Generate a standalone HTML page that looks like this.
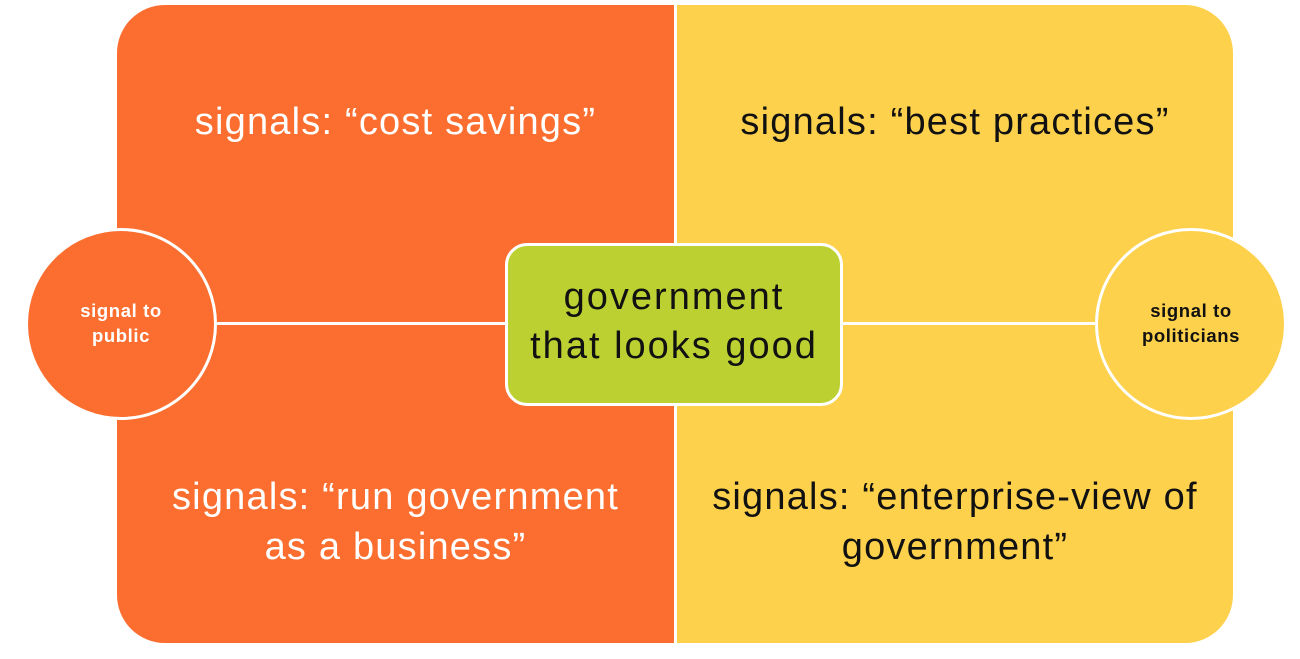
<!DOCTYPE html>
<html><head><style>
body{margin:0;width:1300px;height:659px;background:#fff;position:relative;overflow:hidden;font-family:"Liberation Sans",sans-serif}
.a{position:absolute}
.t{position:absolute;text-align:center;font-size:38px;line-height:50px;letter-spacing:1.2px}
</style></head><body>
<div class="a" style="left:117px;top:5px;width:1116px;height:638px;border-radius:48px;overflow:hidden">
 <div class="a" style="left:0;top:0;width:557px;height:638px;background:#FC6E2F"></div>
 <div class="a" style="left:557px;top:0;width:3px;height:638px;background:#fff"></div>
 <div class="a" style="left:560px;top:0;width:556px;height:638px;background:#FDD14B"></div>
</div>
<div class="a" style="left:200px;top:322px;width:900px;height:3px;background:#fff"></div>
<div class="a" style="left:25px;top:228px;width:186px;height:186px;border:3px solid #fff;border-radius:50%;background:#FC6E2F"></div>
<div class="a" style="left:1095px;top:228px;width:186px;height:186px;border:3px solid #fff;border-radius:50%;background:#FDD14B"></div>
<div class="t" style="left:25px;top:298px;width:192px;font-size:18.5px;line-height:25px;font-weight:bold;color:#fff;letter-spacing:0.6px">signal to<br>public</div>
<div class="t" style="left:1095px;top:298px;width:192px;font-size:18.5px;line-height:25px;font-weight:bold;color:#111;letter-spacing:0.6px">signal to<br>politicians</div>
<div class="a" style="left:505px;top:243px;width:332px;height:157px;border:3px solid #fff;border-radius:22px;background:#BCD131"></div>
<div class="t" style="left:505px;top:273px;width:338px;color:#111;line-height:49px;letter-spacing:2px">government<br>that looks good</div>
<div class="t" style="left:117px;top:97px;width:557px;color:#fff">signals: “cost savings”</div>
<div class="t" style="left:677px;top:97px;width:556px;color:#111">signals: “best practices”</div>
<div class="t" style="left:117px;top:472px;width:557px;color:#fff">signals: “run government<br>as a business”</div>
<div class="t" style="left:677px;top:472px;width:556px;color:#111">signals: “enterprise-view of<br>government”</div>
</body></html>
